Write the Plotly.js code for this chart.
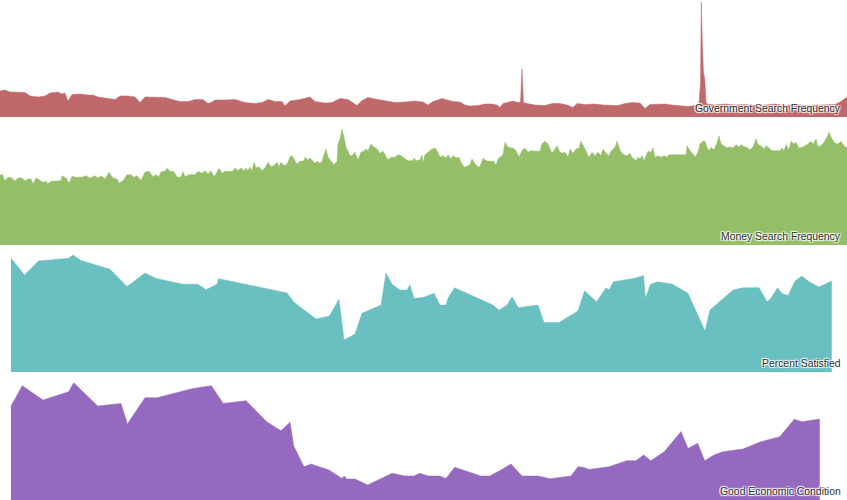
<!DOCTYPE html>
<html>
<head>
<meta charset="utf-8">
<script src="https://cdn.plot.ly/plotly-3.0.1.min.js"></script>
<style>html,body{margin:0;padding:0;background:#fff;}#chart{width:847px;height:500px;}</style>
</head>
<body>
<div id="chart"></div>
<script>
// x values: weeks since the first week of 2004
const seriesNames = ["Government Search Frequency", "Money Search Frequency", "Percent Satisfied", "Good Economic Condition"];
const seriesColors = ["#c0696a", "#94bf68", "#6abfc0", "#9569bf"];

const govWeeks = [0,3.75,7.5,15,18.75,22.5,28.5,33.75,37.5,43.5,46.5,48.75,51,54,60,66,69.75,73.5,78.75,86.25,90,96,101.25,105,108.75,116.25,123.75,129,135,141,146.25,152.25,156,159,161.25,168.75,176.25,183.75,191.25,196.5,201,206.25,211.5,213.75,217.5,225,232.5,236.25,243.75,249,255,261,264.75,267.75,271.5,276,281.25,288.75,296.25,303.75,311.25,317.25,321,324,327.75,331.5,335.25,339.75,345,348.75,352.5,358.5,363.75,369,372.75,375,377.25,381,384.75,388.5,390.4,391.5,392.6,395.25,401.25,408.75,414,420,425.25,429.75,432.75,438.75,446.25,452.25,457.5,463.5,468.75,474,480,483.75,487.5,492.75,498.75,504,510,516,521.25,524.25,525.4,526,526.7,527.6,528.6,529.5,530.25,536.25,543.75,551.25,558.75,566.25,573.75,581.25,588.75,596.25,603.75,611.25,618.75,626.25,630,633,635.25];
const govValues = [22.6,23.5,21.7,21.7,21.3,18.3,17.4,18.3,20.9,21.7,20,20.9,13.9,19.6,20,19.1,19.1,17.4,16.5,15.2,18.3,18.3,17.4,12.6,17.4,17,17,15.2,13.5,13.5,15.2,15.2,11.7,13,14.8,14.8,15.2,12.6,11.7,12.6,15.2,13.5,13.5,9.6,13.9,15.2,17.4,13.5,12.2,12.6,16.1,15.2,12.2,10,14.3,17,15.7,13.9,12.6,13,13.9,13,10.4,13,14.8,16.1,14.8,13.5,13,10.4,9.6,10,11.3,11.3,10.4,8.3,11.7,12.6,13.9,12.6,13,41.7,12.6,11.7,10.4,10,11.7,11.7,10.4,8.3,11.7,10.9,11.3,10.4,10,10,11.7,12.6,12.2,7.4,10.9,11.3,11.3,10.4,9.6,9.1,10,12.2,30,100,65,39,33,13,11.3,10.4,11.3,10.4,10.9,10,10.4,11.3,10,10.9,10,10.4,10.4,10.9,13,15.7,17.4];

const moneyWeeks = [0,1.5,3.75,6,9,11.25,13.5,16.5,18.75,21,23.25,24.75,27,30,32.25,34.5,36,38.25,42.75,45.75,46.5,49.5,51.75,54,56.25,61.5,64.5,67.5,71.25,73.5,75.75,78.75,81.75,84.75,87.75,89.25,92.25,95.25,98.25,100.5,102.75,105.75,108.75,111.75,114.75,117,119.25,120.75,123.75,125.25,127.5,130.5,132.75,135.75,137.25,138.75,141.75,146.25,148.5,151.5,153.75,156,158.25,160.5,162.75,164.25,166.5,168.75,174.75,176.25,178.5,180.75,183,184.5,186,187.5,189,190.5,192,194.25,196.5,198.75,201,203.25,205.5,207.75,209.25,210.75,213,215.25,217.5,219,221.25,222.75,225,228,228.75,231,232.5,234.75,236.25,237.75,240,241.5,243,244.5,246,248.25,250.5,252.75,253.5,255,256.5,258,259.5,261,262.5,264,266.25,268.5,270.75,273,274.5,276,278.25,280.5,282.75,285,287.25,288.75,291,293.25,296.25,298.5,300.75,303,306,309.75,310.5,312,315,316.5,317.25,318.75,321,324,326.25,327.75,330,332.25,334.5,336,338.25,339.75,342,344.25,345.75,347.25,348.75,352.5,354,356.25,359.25,360.75,362.25,364.5,367.5,370.5,372,373.5,375,377.25,378.75,380.25,382.5,384.75,387,389.25,391.5,393.75,396,398.25,401.25,405,406.5,408.75,411,412.5,414,416.25,417.75,419.25,421.5,423.75,426,427.5,429.75,432,434.25,435.75,438,439.5,441.75,444,446.25,448.5,450.75,452.25,454.5,456.75,458.25,461.25,462.75,465,466.5,468,470.25,472.5,474,475.5,477,478.5,480,481.5,483,484.5,486,488.25,489.75,491.25,493.5,495.75,498,500.25,501.75,510,514.5,515.25,517.5,519.75,521.25,523.5,525,527.25,528.75,530.25,531.75,533.25,535.5,537.75,539.25,540.75,543,545.25,547.5,549.75,552,554.25,555.75,558,560.25,562.5,564.75,567,568.5,570.75,573,574.5,576.75,579,585,586.5,588,589.5,591.75,593.25,595.5,597,599.25,601.5,603.75,606,608.25,609.75,612,613.5,615.75,618,620.25,621.75,624,626.25,628.5,630.75,633,635.25];
const moneyValues = [59.7,61.2,55.4,58.4,57.8,55.2,57.8,57.8,55.2,56.9,56.9,52.6,57.8,56,54,54.9,52.6,54.9,54.9,55.4,59.7,57.8,53.2,59.2,58.4,58.4,59.7,57.5,59.7,57.8,59.7,56.9,62.7,57.8,56.9,53.2,55.4,60.6,60.6,58.4,59.7,55.8,62.7,63.5,58.9,60.6,58.9,63.2,63.5,66.1,63.5,63.2,58.6,58.6,63.2,58.9,60.6,60.6,63.5,61.8,64,61.2,64,58.9,62.7,66.1,61.8,63.5,63.5,66.4,64,66.4,64,66.1,64,67.2,64,71.3,66.4,67.5,64,66.4,71.3,67.5,68.4,71.3,67.5,71.3,68.4,69.8,75.6,77,72.7,69.8,72.1,72.7,75.6,73.3,75,72.7,70.4,72.1,70.4,72.1,78.4,82.8,75.6,72.7,69.2,72.1,87.1,91.4,100,92.8,84.2,80.8,77,77,79.9,73.3,79.9,80.8,82.8,81,87.1,84.2,82.8,79,80.8,77.8,73.3,75.6,75.6,77.8,77,75,72.7,72.7,75,72.7,73.3,77.6,70.4,77.8,79.9,82.8,83.6,81.3,75.6,77,75,77.8,74.1,77,75,75.6,71.3,68.4,67,69.2,74.1,69.8,67,69.8,74.7,72.7,72.1,72.1,68.4,74.1,75.6,77.8,88.5,85.6,83.6,83.6,81.3,76.1,81.3,83.6,79.9,81.3,80.8,80.8,87.1,89.4,87.1,82.8,79,82.8,85.6,81.3,79,79.9,75.6,82.8,79,82.8,83.6,89.4,83.6,80.8,75.6,79.9,77,79.9,77,82.8,79,77,80.8,84.2,89.4,81.9,79,77.8,77,79,75.6,74.1,72.7,75.6,74.1,77,72.7,77,80.8,79.9,83.6,75.6,77,75.6,77,75.6,77.8,77.8,77.8,85.6,81.3,78.4,75.6,79.9,87.1,89.4,89.4,84.2,81.3,84.2,81.9,88.2,94.2,87.1,85.6,83.6,84.7,83.6,86.5,84.2,86.5,84.7,84.2,81.9,84.7,91.4,86.5,85.6,82.8,85.6,83.6,81.3,81.3,83.6,80.8,86.5,81.9,89.4,87.1,88.5,83.6,84.2,85.6,87.1,89.4,86.5,91.4,84.7,85.6,88.5,92.8,97.2,91.4,87.7,87.1,89.4,85.6,83.6];

const satisfiedWeeks = [8.25,18.4,28.9,51.4,54.75,60.75,82.5,95.25,108.75,117,137.25,148.5,154.5,162.75,163.9,215.25,220.5,237,246.75,249,254.25,258,266.25,271.5,285.75,289.5,294,300,305.25,307.5,310.5,317.25,325.5,330,334.5,336,340.9,369.75,374.25,380.25,384,388.9,403.5,408,419.25,433.5,438.4,447.4,454.5,456.75,460.1,475.5,482.6,484.1,487.9,493.5,504.4,516,528.75,532.5,549.75,557.25,569.25,575.25,578.25,583.1,586.5,591,596.25,601.5,606.75,614.25,623.8];
const satisfiedValues = [48.6,41.5,47.4,48.6,50,47.6,43.9,36.5,42.3,40,37.5,37.5,35.2,37.5,39.9,33.8,29.8,22.7,23.8,25.8,31.1,13.7,16.2,25.1,28.6,42.3,37.5,35,35,37.2,31.5,31.8,33.6,28.6,28.6,31.5,36,28.6,26.4,28.6,32.2,27.5,28.6,21.2,21.2,26.1,34.7,30,36,35,38.6,40,41.2,31.5,37.5,38.6,37.5,33.6,17.5,26.5,35,36,36,30,31.5,36,33.6,32.6,38.9,41,38.6,36.3,38.9];

const economyWeeks = [8.25,16.7,32.25,51.5,55.3,73.3,90.75,95.5,108.75,117.75,144.75,158.5,167.5,184.5,200,210.75,217.5,220.3,228,233.25,246.75,256.5,258.2,260,266.25,275.8,294,303.75,310.5,315,321,329.8,334.5,341,360.75,367.3,376.5,383.25,391.5,403.5,412.5,428.25,433.5,437.25,441.75,456.75,470,476.8,482.8,488,498.2,510.75,516,523.3,528.5,535.5,542.25,557.25,570.5,584.8,595.7,601.5,614.8];
const economyValues = [31.3,38.1,33.3,36.1,39.1,31.3,32.2,25.3,34.1,34.1,37.2,38.1,32.2,33.1,26.1,23.1,25.9,18,11.1,12,10,7.2,8,7,7,5,8.9,8,8,8.9,8,8,7.2,10.9,8,8,10.2,12,8,8,7.1,8,11.1,10.9,10.2,11.1,13.1,13.1,15,13.1,16.1,22.8,17.2,18.9,13.1,15,16.1,17,19.4,21.1,26.9,26.1,27];

const xs = [govWeeks, moneyWeeks, satisfiedWeeks, economyWeeks];
const ys = [govValues, moneyValues, satisfiedValues, economyValues];
const axisIds = ["y", "y2", "y3", "y4"];

const traces = xs.map((x, i) => ({
  type: "scatter",
  mode: "lines",
  x: x,
  y: ys[i],
  xaxis: "x",
  yaxis: axisIds[i],
  fill: "tozeroy",
  fillcolor: seriesColors[i],
  line: {color: seriesColors[i], width: 0.5},
  hoverinfo: "skip",
  showlegend: false
}));

function yax(domain, range) {
  return {domain: domain, range: range, visible: false, fixedrange: true, anchor: "x"};
}

const labelY = [0.783, 0.527, 0.273, 0.018];
const annotations = seriesNames.map((t, i) => ({
  text: t,
  xref: "paper", yref: "paper",
  x: 842/847, y: labelY[i],
  xanchor: "right", yanchor: "middle",
  showarrow: false,
  borderpad: 0,
  font: {family: "Liberation Sans, Arial, sans-serif", size: 10.4, color: "#333333", shadow: "auto"}
}));

const layout = {
  width: 847, height: 500,
  margin: {l: 0, r: 0, t: 0, b: 0, pad: 0},
  paper_bgcolor: "#ffffff",
  plot_bgcolor: "#ffffff",
  showlegend: false,
  xaxis: {range: [0, 635.25], visible: false, fixedrange: true},
  yaxis: yax([0.766, 1.0], [0, 101.7]),
  yaxis2: yax([0.51, 0.766], [0, 110.3]),
  yaxis3: yax([0.256, 0.51], [0, 54.27]),
  yaxis4: yax([0, 0.256], [0, 42.67]),
  annotations: annotations
};

Plotly.newPlot("chart", traces, layout, {staticPlot: true, displayModeBar: false});
</script>
</body>
</html>
